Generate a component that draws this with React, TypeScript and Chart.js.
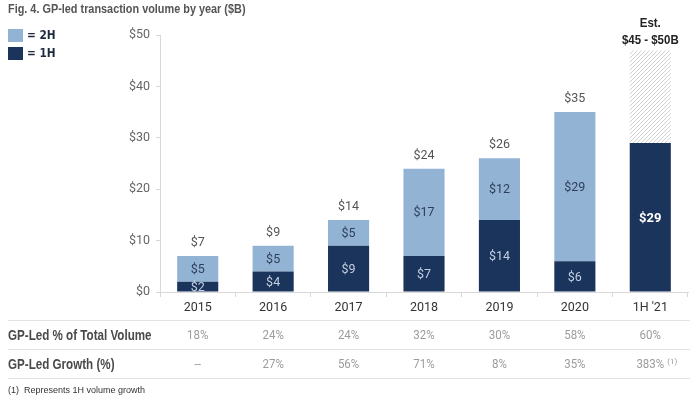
import React, { useEffect, useRef } from 'react';
import { Chart, registerables } from 'chart.js';

Chart.register(...registerables);

const categories = ['2015', '2016', '2017', '2018', '2019', '2020', "1H '21"];
const firstHalf = [2, 4, 9, 7, 14, 6, 29];
const secondHalf = [5, 5, 5, 17, 12, 29, null];
const totals = [7, 9, 14, 24, 26, 35, null];
const estimateRemainder = [null, null, null, null, null, null, 18];
const yTicks = [0, 10, 20, 30, 40, 50];
const pctOfTotal = ['18%', '24%', '24%', '32%', '30%', '58%', '60%'];
const growth = ['--', '27%', '56%', '71%', '8%', '35%', '383%'];
const growthNotes = ['', '', '', '', '', '', '(1)'];

const TITLE = 'Fig. 4. GP-led transaction volume by year ($B)';
const LIGHT = '#93b3d5';
const NAVY = '#1b345c';
const SANS = '"Liberation Sans", Arial, sans-serif';

function makeHatch(): CanvasPattern | string {
  const c = document.createElement('canvas');
  c.width = 4;
  c.height = 4;
  const g = c.getContext('2d');
  if (!g) return '#eee';
  g.fillStyle = '#ffffff';
  g.fillRect(0, 0, 4, 4);
  g.strokeStyle = '#d2d2d2';
  g.lineWidth = 1;
  g.beginPath();
  g.moveTo(0, 4);
  g.lineTo(4, 0);
  g.moveTo(-1, 1);
  g.lineTo(1, -1);
  g.moveTo(3, 5);
  g.lineTo(5, 3);
  g.stroke();
  const p = g.createPattern(c, 'repeat');
  return p || '#eee';
}

// draw text horizontally condensed (narrow look), anchored by textAlign
function fillNarrow(ctx: CanvasRenderingContext2D, text: string, x: number, y: number, sx: number) {
  ctx.save();
  ctx.translate(x, y);
  ctx.scale(sx, 1);
  ctx.fillText(text, 0, 0);
  ctx.restore();
}

const overlay = {
  id: 'overlay',
  afterDatasetsDraw(chart: any) {
    const ctx = chart.ctx;
    const x = chart.scales.x;
    const y = chart.scales.y;
    ctx.save();
    ctx.textAlign = 'center';
    ctx.textBaseline = 'middle';
    categories.forEach((_, i) => {
      const cx = x.getPixelForValue(i);
      const a = firstHalf[i];
      const b = secondHalf[i];
      if (a != null) {
        const yc = (y.getPixelForValue(0) + y.getPixelForValue(a)) / 2;
        if (i === categories.length - 1) {
          ctx.font = 'bold 13px Roboto, sans-serif';
          ctx.fillStyle = '#ffffff';
        } else {
          ctx.font = '12.5px Roboto, sans-serif';
          ctx.fillStyle = '#c3cfe0';
        }
        ctx.fillText('$' + a, cx, yc + 1);
      }
      if (b != null && a != null) {
        const yc = (y.getPixelForValue(a) + y.getPixelForValue(a + b)) / 2;
        ctx.font = '12.5px Roboto, sans-serif';
        ctx.fillStyle = '#2e3f5c';
        ctx.fillText('$' + b, cx, yc + 1);
      }
      const t = totals[i];
      if (t != null) {
        ctx.font = '12.5px Roboto, sans-serif';
        ctx.fillStyle = '#555555';
        ctx.fillText('$' + t, cx, y.getPixelForValue(t) - 13);
      }
    });
    const last = categories.length - 1;
    const lx = x.getPixelForValue(last);
    ctx.fillStyle = '#222222';
    ctx.font = 'bold 13.5px ' + SANS;
    fillNarrow(ctx, 'Est.', lx, 23, 0.85);
    fillNarrow(ctx, '$45 - $50B', lx, 40, 0.85);
    ctx.restore();
  },
  afterDraw(chart: any) {
    const ctx = chart.ctx;
    const x = chart.scales.x;
    ctx.save();
    // title
    ctx.textAlign = 'left';
    ctx.textBaseline = 'middle';
    ctx.fillStyle = '#555555';
    ctx.font = 'bold 12.5px ' + SANS;
    fillNarrow(ctx, TITLE, 8, 10, 0.87);
    // legend
    const leg = [
      { c: LIGHT, t: '= 2H', y: 29 },
      { c: NAVY, t: '= 1H', y: 47 },
    ];
    leg.forEach((l) => {
      ctx.fillStyle = l.c;
      ctx.fillRect(8, l.y, 15, 13);
      ctx.fillStyle = '#1e2a3c';
      ctx.font = 'bold 12px "DejaVu Sans", sans-serif';
      fillNarrow(ctx, l.t, 27, l.y + 7, 0.88);
    });
    // table lines
    ctx.strokeStyle = '#e2e2e2';
    ctx.lineWidth = 1;
    [320.5, 349.5, 378.5].forEach((ly) => {
      ctx.beginPath();
      ctx.moveTo(8, ly);
      ctx.lineTo(690, ly);
      ctx.stroke();
    });
    // row labels
    ctx.fillStyle = '#4a4a4a';
    ctx.font = 'bold 14px ' + SANS;
    fillNarrow(ctx, 'GP-Led % of Total Volume', 8, 336, 0.83);
    fillNarrow(ctx, 'GP-Led Growth (%)', 8, 365, 0.83);
    // values
    ctx.textAlign = 'center';
    ctx.font = '12.5px Roboto, sans-serif';
    ctx.fillStyle = '#9c9c9c';
    categories.forEach((_, i) => {
      const cx = x.getPixelForValue(i);
      fillNarrow(ctx, pctOfTotal[i], cx, 336, 0.92);
      fillNarrow(ctx, growth[i], cx, 365, 0.92);
      if (growthNotes[i]) {
        const w = ctx.measureText(growth[i]).width * 0.92;
        ctx.save();
        ctx.textAlign = 'left';
        ctx.font = '8px Roboto, sans-serif';
        ctx.fillText(growthNotes[i], cx + w / 2 + 3, 362);
        ctx.restore();
      }
    });
    // footnote
    ctx.textAlign = 'left';
    ctx.fillStyle = '#333333';
    ctx.font = '9px ' + SANS;
    fillNarrow(ctx, '(1)  Represents 1H volume growth', 8, 391, 1.0);
    ctx.restore();
  },
};

export default function App() {
  const ref = useRef<HTMLCanvasElement>(null);
  useEffect(() => {
    if (!ref.current) return;
    const hatch = makeHatch();
    const chart = new Chart(ref.current, {
      type: 'bar',
      data: {
        labels: categories,
        datasets: [
          { label: '1H', data: firstHalf, backgroundColor: NAVY, stack: 's' },
          { label: '2H', data: secondHalf as any, backgroundColor: LIGHT, stack: 's' },
          { label: 'Est.', data: estimateRemainder as any, backgroundColor: hatch as any, stack: 's' },
        ],
      },
      options: {
        animation: false,
        responsive: false,
        events: [],
        datasets: { bar: { categoryPercentage: 1, barPercentage: 0.545 } },
        layout: { padding: { top: 35, left: 0, right: 12, bottom: 79 } },
        plugins: { legend: { display: false }, tooltip: { enabled: false }, title: { display: false } },
        scales: {
          x: {
            stacked: true,
            grid: { display: true, drawOnChartArea: false, offset: true, tickLength: 5, color: '#d8d8d8' },
            border: { display: true, color: '#d8d8d8' },
            ticks: { color: '#333333', font: { family: 'Roboto', size: 12.5 }, padding: 3, maxRotation: 0 },
            afterFit: (s: any) => {
              s.height = 30;
            },
          },
          y: {
            stacked: true,
            min: 0,
            max: 50,
            grid: { display: true, drawOnChartArea: false, tickLength: 4, color: '#d8d8d8' },
            border: { display: true, color: '#d8d8d8' },
            ticks: {
              stepSize: 10,
              color: '#666666',
              font: { family: 'Roboto', size: 12.5 },
              padding: 6,
              callback: (v: any) => (yTicks.includes(Number(v)) ? '$' + v : ''),
            },
            afterFit: (s: any) => {
              s.width = 160;
            },
          },
        },
      },
      plugins: [overlay],
    });
    return () => chart.destroy();
  }, []);
  return (
    <div style={{ position: 'fixed', left: 0, top: 0, width: 700, height: 401, background: '#fff' }}>
      <canvas ref={ref} width={700} height={401} style={{ display: 'block' }} />
    </div>
  );
}
